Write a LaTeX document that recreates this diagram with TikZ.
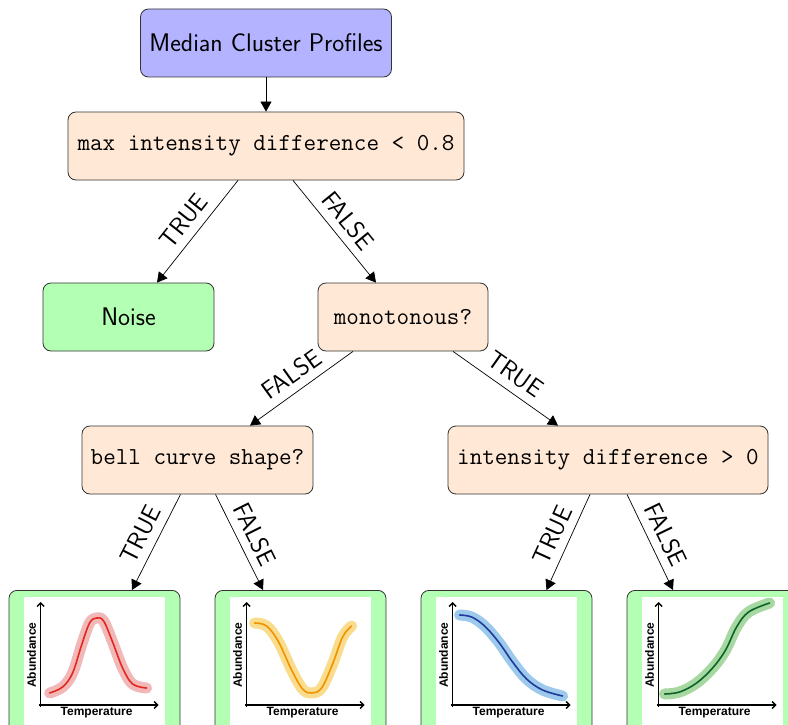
\documentclass[tikz,border=0pt]{standalone}
\usepackage{fontspec}
\newfontfamily\plotfont{Liberation Sans}
\usetikzlibrary{arrows.meta,calc}

\definecolor{rootfill}{HTML}{B3B3FF}
\definecolor{testfill}{HTML}{FFE9D6}
\definecolor{leaffill}{HTML}{B3FFB3}
\definecolor{boxline}{HTML}{333333}
\definecolor{redline}{HTML}{E3281E}
\definecolor{redhalo}{HTML}{F2B8B8}
\definecolor{yellowline}{HTML}{F29200}
\definecolor{yellowhalo}{HTML}{F9DC8C}
\definecolor{blueline}{HTML}{1F3C9C}
\definecolor{bluehalo}{HTML}{9DC9EC}
\definecolor{greenline}{HTML}{0B6428}
\definecolor{greenhalo}{HTML}{A8D8A2}

\tikzset{
  box/.style={draw=boxline, line width=0.8pt, rounded corners=8pt,
    minimum height=68pt, inner sep=0pt},
  rootbox/.style={box, fill=rootfill, font=\fontsize{25.5}{30}\selectfont\sffamily},
  testbox/.style={box, fill=testfill, font=\fontsize{24.4}{29}\selectfont\ttfamily},
  noisebox/.style={box, fill=leaffill, font=\fontsize{25.5}{30}\selectfont\sffamily},
  leafbox/.style={draw=boxline, line width=0.8pt, rounded corners=8pt,
    fill=leaffill, minimum width=171pt, minimum height=150pt, anchor=north},
  edge/.style={line width=0.7pt, -{Triangle[length=10pt,width=11pt]}},
  lbl/.style={sloped, above, inner xsep=0pt, inner ysep=8pt,
    font=\fontsize{25}{30}\selectfont\sffamily},
  axis/.style={line width=1.4pt, -{Straight Barb[length=3.5pt,width=7pt]}},
  plotlabel/.style={font=\fontsize{12}{14}\selectfont\plotfont\bfseries, inner sep=0pt},
  halo/.style={line width=11pt, line cap=round, line join=round},
  curve/.style={line width=1.6pt, line cap=round, line join=round}
}

% one temperature/abundance sketch inside a leaf box
\newcommand\leafplot[4]{%
  \begin{scope}[shift={(#1.north west)}]
    \fill[white] (15,7) rectangle (156,160);
    \draw[axis] (30,115) -- (150,115);
    \draw[axis] (32,117) -- (32,12);
    \node[plotlabel, rotate=90] at (23,65) {Abundance};
    \node[plotlabel] at (88,123) {Temperature};
    \draw[halo, #2] plot[smooth, tension=0.6] coordinates {#4};
    \draw[curve, #3] plot[smooth, tension=0.6] coordinates {#4};
  \end{scope}}

\begin{document}
\begin{tikzpicture}[x=1pt, y=-1pt]
\useasboundingbox (0,0) rectangle (788,725);
\clip (0,0) rectangle (788,725);

% decision nodes
\node[rootbox, minimum width=251pt] (root) at (266,43) {Median Cluster Profiles};
\node[testbox, minimum width=396pt] (maxd) at (266,146) {max intensity difference < 0.8};
\node[noisebox, minimum width=171pt] (noise) at (128.5,317) {Noise};
\node[testbox, minimum width=170pt] (mono) at (403,317) {monotonous?};
\node[testbox, minimum width=231pt] (bell) at (197.5,460) {bell curve shape?};
\node[testbox, minimum width=320pt] (inten) at (608,460) {intensity difference > 0};

% leaf boxes with profile sketches
\node[leafbox] (leafA) at (94.5,590) {};
\node[leafbox] (leafB) at (300.5,590) {};
\node[leafbox] (leafC) at (506.5,590) {};
\node[leafbox] (leafD) at (712.5,590) {};

\leafplot{leafA}{redhalo}{redline}{(41,103) (54,97) (64,83) (73,55) (81,33) (88,28) (95,31) (104,52) (114,78) (124,94) (138,98)}
\leafplot{leafB}{yellowhalo}{yellowline}{(40,33) (52,36) (64,52) (77,80) (88,99) (97,103) (107,98) (118,74) (128,47) (137,36)}
\leafplot{leafC}{bluehalo}{blueline}{(39,25) (51,27) (64,36) (78,52) (92,72) (106,89) (122,100) (142,106)}
\leafplot{leafD}{greenhalo}{greenline}{(38,104) (53,102) (70,93) (86,78) (99,60) (110,37) (122,22) (143,13)}

% connectors
\draw[edge] (root) -- (maxd);
\draw[edge] ([xshift=-28pt]maxd.south) -- node[lbl] {TRUE} ([xshift=28.5pt]noise.north);
\draw[edge] ([xshift=27pt]maxd.south) -- node[lbl] {FALSE} ([xshift=-27pt]mono.north);
\draw[edge] ([xshift=-50pt]mono.south) -- node[lbl] {FALSE} ([xshift=52.5pt]bell.north);
\draw[edge] ([xshift=50pt]mono.south) -- node[lbl] {TRUE} ([xshift=-50pt]inten.north);
\draw[edge] ([xshift=-17pt]bell.south) -- node[lbl] {TRUE} ([xshift=37.5pt]leafA.north);
\draw[edge] ([xshift=18pt]bell.south) -- node[lbl] {FALSE} ([xshift=-37.5pt]leafB.north);
\draw[edge] ([xshift=-18pt]inten.south) -- node[lbl] {TRUE} ([xshift=40pt]leafC.north);
\draw[edge] ([xshift=19pt]inten.south) -- node[lbl] {FALSE} ([xshift=-39.5pt]leafD.north);
\end{tikzpicture}
\end{document}
